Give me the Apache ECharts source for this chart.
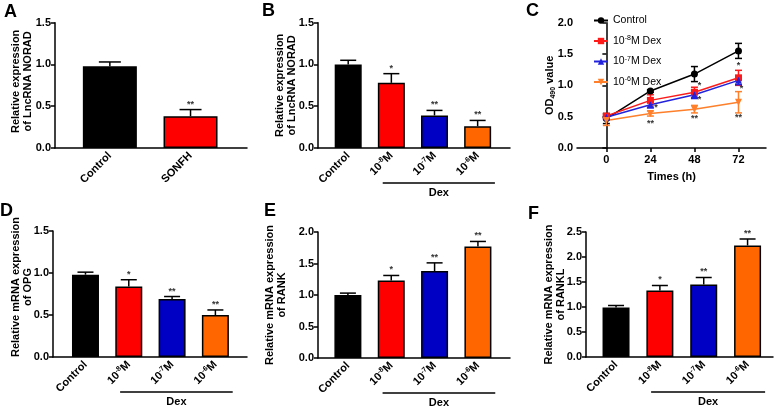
<!DOCTYPE html>
<html><head><meta charset="utf-8">
<script src="https://cdn.jsdelivr.net/npm/echarts@6/dist/echarts.min.js"></script>
<style>html,body{margin:0;padding:0;background:#fff}#c{width:778px;height:407px}</style>
</head><body><div id="c"></div>
<script>
// ---------- data ----------
const catsA = ['Control', 'SONFH'];
const catsDex = ['Control', '10|-8|M', '10|-7|M', '10|-6|M'];
const barColors = ['#000000', '#ff0000', '#0000c4', '#ff6600'];

const valsA = [0.98, 0.38];
const errA = [0.05, 0.08];
const sigA = ['', '**'];

const valsB = [1.00, 0.78, 0.39, 0.26];
const errB = [0.05, 0.11, 0.06, 0.07];
const sigB = ['', '*', '**', '**'];

const valsD = [0.98, 0.84, 0.69, 0.50];
const errD = [0.03, 0.08, 0.03, 0.06];
const sigD = ['', '*', '**', '**'];

const valsE = [1.00, 1.23, 1.38, 1.77];
const errE = [0.03, 0.08, 0.13, 0.08];
const sigE = ['', '*', '**', '**'];

const valsF = [0.99, 1.33, 1.45, 2.23];
const errF = [0.04, 0.10, 0.14, 0.13];
const sigF = ['', '*', '**', '**'];

const timesC = [0, 24, 48, 72];
const namesC = ['Control', '10|-8|M Dex', '10|-7|M Dex', '10|-6|M Dex'];
const ctrlC = [0.47, 0.91, 1.18, 1.55];
const ctrlErrC = [0.08, 0.02, 0.12, 0.12];
const d8C = [0.51, 0.76, 0.89, 1.12];
const d8ErrC = [0.03, 0.09, 0.08, 0.12];
const d7C = [0.49, 0.69, 0.85, 1.08];
const d7ErrC = [0.03, 0.05, 0.06, 0.07];
const d6C = [0.44, 0.55, 0.62, 0.73];
const d6ErrC = [0.08, 0.04, 0.06, 0.17];
// significance marks in C: [time, value, text]
const sigCx = [27, 24, 50.7, 50.7, 48, 72, 73.7, 72];
const sigCy = [0.65, 0.39, 0.99, 0.78, 0.47, 1.31, 0.95, 0.49];
const sigCt = ['*', '**', '*', '*', '**', '*', '*', '**'];

// ---------- helpers ----------
const FONT = '"Liberation Sans", Arial, sans-serif';
function rich(label) {
  const p = label.split('|');
  if (p.length === 1) return '{n|' + label + '}';
  return '{n|' + p[0] + '}{s|' + p[1] + '}{n|' + p[2] + '}';
}
const richStyles = {
  n: { fontFamily: FONT, fontWeight: 'bold', fontSize: 11, lineHeight: 13, color: '#000' },
  s: { fontFamily: FONT, fontWeight: 'bold', fontSize: 7, lineHeight: 7, verticalAlign: 'top', color: '#000' }
};
const legendRich = {
  n: { fontFamily: FONT, fontSize: 10.5, lineHeight: 12, color: '#000' },
  s: { fontFamily: FONT, fontSize: 7, lineHeight: 7, verticalAlign: 'top', color: '#000' }
};

const grids = [
  { left: 55, top: 22.7, width: 192, height: 125.3 },   // A
  { left: 318, top: 22.7, width: 192, height: 125.3 },  // B
  { left: 577, top: 22.7, width: 189, height: 125.3 },  // C
  { left: 53, top: 231, width: 194, height: 126 },      // D
  { left: 318, top: 232, width: 192, height: 126 },     // E
  { left: 586, top: 232, width: 187, height: 125 }      // F
];

const axisLine = { show: true, lineStyle: { color: '#000', width: 1.5 } };

function catXAxis(gi, cats, min, max) {
  return {
    gridIndex: gi, type: 'value', min: min, max: max,
    axisLine: axisLine, axisTick: { show: false }, splitLine: { show: false },
    axisLabel: {
      customValues: cats.map((c, i) => i + 1),
      formatter: v => rich(cats[Math.round(v) - 1] || ''),
      rotate: 45, margin: 6, rich: richStyles
    }
  };
}
function valYAxis(gi, max, name, gap, pad) {
  return {
    gridIndex: gi, type: 'value', min: 0, max: max, interval: 0.5,
    axisLine: axisLine,
    axisTick: { show: true, length: 4, lineStyle: { color: '#000', width: 1.5 } },
    splitLine: { show: false },
    axisLabel: { formatter: v => v.toFixed(1), fontFamily: FONT, fontWeight: 'bold', fontSize: 11, color: '#000', margin: 4 },
    name: name, nameLocation: 'middle', nameGap: gap, nameMoveOverlap: false,
    nameTextStyle: { fontFamily: FONT, fontWeight: 'bold', fontSize: 11, lineHeight: 12, color: '#000', padding: pad || 0 }
  };
}

function barSeries(gi, vals, bw) {
  return {
    type: 'bar', xAxisIndex: gi, yAxisIndex: gi, barWidth: bw,
    data: vals.map((v, i) => ({ value: [i + 1, v], itemStyle: { color: barColors[i] } })),
    itemStyle: { borderColor: '#000', borderWidth: 1.5 }, z: 2
  };
}
function errSeries(gi, vals, errs, sigs, capHalf) {
  return {
    type: 'custom', xAxisIndex: gi, yAxisIndex: gi, z: 3,
    data: vals.map((v, i) => [i + 1, v, errs[i]]),
    renderItem: function (params, api) {
      const x = api.value(0), v = api.value(1), e = api.value(2);
      const p0 = api.coord([x, v]), p1 = api.coord([x, v + e]);
      const st = { stroke: '#000', lineWidth: 1.5 };
      return { type: 'group', children: [
        { type: 'line', shape: { x1: p0[0], y1: p0[1], x2: p1[0], y2: p1[1] }, style: st },
        { type: 'line', shape: { x1: p1[0] - capHalf, y1: p1[1], x2: p1[0] + capHalf, y2: p1[1] }, style: st },
        { type: 'text', style: { text: sigs[params.dataIndex], x: p1[0], y: p1[1] - 1, align: 'center', verticalAlign: 'bottom',
            font: 'bold 9px ' + FONT, fill: '#333' } }
      ] };
    }
  };
}

const lineColors = ['#000000', '#ff1a1a', '#2222dd', '#ff7f2a'];
const lineVals = [ctrlC, d8C, d7C, d6C];
const lineErrs = [ctrlErrC, d8ErrC, d7ErrC, d6ErrC];
const lineSymbols = ['circle', 'rect', 'triangle', 'triangle'];
const lineRot = [0, 0, 0, 180];

const series = [
  barSeries(0, valsA, 54), errSeries(0, valsA, errA, sigA, 11),
  barSeries(1, valsB, 27), errSeries(1, valsB, errB, sigB, 8),
  barSeries(3, valsD, 27), errSeries(3, valsD, errD, sigD, 8),
  barSeries(4, valsE, 27), errSeries(4, valsE, errE, sigE, 8),
  barSeries(5, valsF, 27), errSeries(5, valsF, errF, sigF, 8)
];
lineVals.forEach((vals, k) => {
  series.push({
    type: 'custom', xAxisIndex: 2, yAxisIndex: 2, z: 2,
    data: vals.map((v, i) => [timesC[i], v, lineErrs[k][i]]),
    renderItem: function (params, api) {
      const x = api.value(0), v = api.value(1), e = api.value(2);
      const lo = api.coord([x, v - e]), hi = api.coord([x, v + e]);
      const st = { stroke: lineColors[k], lineWidth: 1.5 };
      return { type: 'group', children: [
        { type: 'line', shape: { x1: lo[0], y1: lo[1], x2: hi[0], y2: hi[1] }, style: st },
        { type: 'line', shape: { x1: lo[0] - 3.5, y1: lo[1], x2: lo[0] + 3.5, y2: lo[1] }, style: st },
        { type: 'line', shape: { x1: hi[0] - 3.5, y1: hi[1], x2: hi[0] + 3.5, y2: hi[1] }, style: st }
      ] };
    }
  });
  series.push({
    type: 'line', name: namesC[k], xAxisIndex: 2, yAxisIndex: 2, z: 4,
    data: vals.map((v, i) => [timesC[i], v]),
    symbol: lineSymbols[k], symbolRotate: lineRot[k], symbolSize: 7,
    itemStyle: { color: lineColors[k] }, lineStyle: { color: lineColors[k], width: 1.5 }
  });
});
series.push({
  type: 'custom', xAxisIndex: 2, yAxisIndex: 2, z: 5,
  data: sigCx.map((x, i) => [x, sigCy[i]]),
  renderItem: function (params, api) {
    const p = api.coord([api.value(0), api.value(1)]);
    return { type: 'text', style: { text: sigCt[params.dataIndex], x: p[0], y: p[1], align: 'center', verticalAlign: 'middle',
      font: 'bold 9px ' + FONT, fill: '#333' } };
  }
});

const letters = [['A', 4, 3], ['B', 262, 2], ['C', 526, 2], ['D', 0, 202], ['E', 264, 202], ['F', 528, 205]];

const option = {
  animation: false,
  backgroundColor: '#fff',
  title: letters.map(l => ({ text: l[0], left: l[1], top: l[2], padding: 0,
    textStyle: { fontFamily: FONT, fontWeight: 'bold', fontSize: 18, color: '#000' } })),
  grid: grids,
  xAxis: [
    catXAxis(0, catsA, 0.32, 2.7),
    catXAxis(1, catsDex, 0.3, 4.75),
    {
      gridIndex: 2, type: 'value', min: -16, max: 87,
      axisLine: axisLine,
      axisTick: { show: true, customValues: timesC, length: 4, lineStyle: { color: '#000', width: 1.5 } },
      splitLine: { show: false },
      axisLabel: { customValues: timesC, fontFamily: FONT, fontWeight: 'bold', fontSize: 11, color: '#000', margin: 6 },
      name: 'Times (h)', nameLocation: 'middle', nameGap: 23, nameMoveOverlap: false,
      nameTextStyle: { fontFamily: FONT, fontWeight: 'bold', fontSize: 11, color: '#000' }
    },
    catXAxis(3, catsDex, 0.25, 4.73),
    catXAxis(4, catsDex, 0.31, 4.74),
    catXAxis(5, catsDex, 0.315, 4.58)
  ],
  yAxis: [
    valYAxis(0, 1.5, 'Relative expression\nof LncRNA NORAD', 21, [0, 0, 0, 8]),
    valYAxis(1, 1.5, 'Relative expression\nof LncRNA NORAD', 20),
    Object.assign(valYAxis(2, 2.0, '{a|OD}{b|490}{a| value}', 20), {
      nameTextStyle: { rich: {
        a: { fontFamily: FONT, fontWeight: 'bold', fontSize: 11, lineHeight: 14, color: '#000' },
        b: { fontFamily: FONT, fontWeight: 'bold', fontSize: 7, lineHeight: 7, verticalAlign: 'bottom', color: '#000' } } }
    }),
    valYAxis(3, 1.5, 'Relative mRNA expression\nof OPG', 19, [0, 0, 0, 14]),
    valYAxis(4, 2.0, 'Relative mRNA expression\nof RANK', 30),
    valYAxis(5, 2.5, 'Relative mRNA expression\nof RANKL', 19)
  ],
  legend: {
    data: namesC, orient: 'vertical', left: 588, top: 10, itemWidth: 14, itemHeight: 8, itemGap: 9,
    formatter: name => rich(name),
    textStyle: { fontFamily: FONT, fontSize: 10.5, color: '#000', rich: legendRich },
    selectedMode: false
  },
  series: series
};

const chart = echarts.init(document.getElementById('c'), null, { renderer: 'canvas' });
chart.setOption(option);

// "Dex" brackets under treated groups
const dexGrids = [1, 3, 4, 5];
const graphics = [];
dexGrids.forEach(gi => {
  const a = chart.convertToPixel({ gridIndex: gi }, [1.8, 0]);
  const b = chart.convertToPixel({ gridIndex: gi }, [4.4, 0]);
  const y = a[1] + 35;
  graphics.push({ type: 'line', shape: { x1: a[0], y1: y, x2: b[0], y2: y }, style: { stroke: '#000', lineWidth: 1.5 } });
  graphics.push({ type: 'text', style: { text: 'Dex', x: (a[0] + b[0]) / 2, y: y + 4, align: 'center', verticalAlign: 'top',
    font: 'bold 11px ' + FONT, fill: '#000' } });
});
chart.setOption({ graphic: graphics });
</script></body></html>
